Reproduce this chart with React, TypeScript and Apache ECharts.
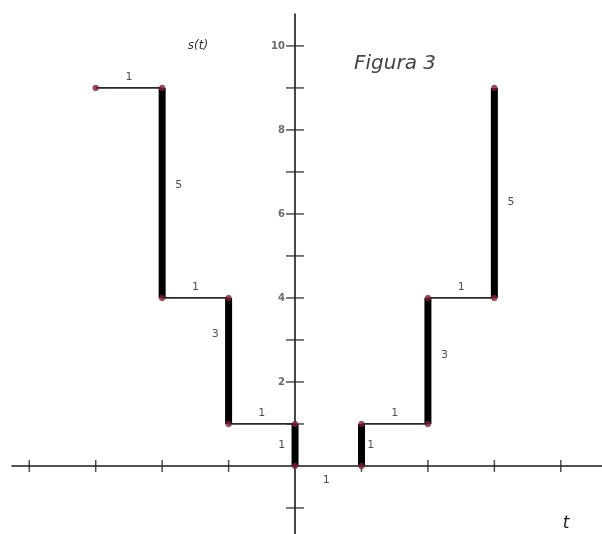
import React, { useEffect, useRef } from "react";
import * as echarts from "echarts";

// Step segments of s(t)
const horizontalSegments: [number, number][][] = [
  [[-3, 9], [-2, 9]],
  [[-2, 4], [-1, 4]],
  [[-1, 1], [0, 1]],
  [[1, 1], [2, 1]],
  [[2, 4], [3, 4]],
];
const verticalSegments: [number, number][][] = [
  [[-2, 9], [-2, 4]],
  [[-1, 4], [-1, 1]],
  [[0, 1], [0, 0]],
  [[1, 0], [1, 1]],
  [[2, 1], [2, 4]],
  [[3, 4], [3, 9]],
];
const points: [number, number][] = [
  [-3, 9], [-2, 9], [-2, 4], [-1, 4], [-1, 1], [0, 1], [0, 0],
  [1, 0], [1, 1], [2, 1], [2, 4], [3, 4], [3, 9],
];
// annotation labels: [t, s, text]
const annotations: [number, number, string][] = [
  [-2.5, 9.27, "1"],
  [-1.75, 6.7, "5"],
  [-1.5, 4.27, "1"],
  [-1.2, 3.15, "3"],
  [-0.5, 1.27, "1"],
  [-0.2, 0.52, "1"],
  [1.14, 0.52, "1"],
  [1.5, 1.27, "1"],
  [2.25, 2.65, "3"],
  [2.5, 4.27, "1"],
  [3.25, 6.3, "5"],
  [0.47, -0.33, "1"],
];
const xTicks = [-4, -3, -2, -1, 1, 2, 3, 4];
const yTicks = [-1, 1, 2, 3, 4, 5, 6, 7, 8, 9, 10];
const yTickLabels = [2, 4, 6, 8, 10];

export default function App() {
  const ref = useRef<HTMLDivElement>(null);
  useEffect(() => {
    if (!ref.current) return;
    const chart = echarts.init(ref.current, undefined, { renderer: "svg" });
    const series: any[] = [];
    horizontalSegments.forEach((seg) =>
      series.push({
        type: "line",
        data: seg,
        symbol: "none",
        lineStyle: { color: "#2a2a2a", width: 1.7 },
        z: 3,
      })
    );
    verticalSegments.forEach((seg) =>
      series.push({
        type: "line",
        data: seg,
        symbol: "none",
        lineStyle: { color: "#000", width: 7, cap: "butt" },
        z: 4,
      })
    );
    series.push({
      type: "scatter",
      data: points,
      symbol: "circle",
      symbolSize: 6.5,
      itemStyle: { color: "#7a2232" },
      z: 6,
    });
    series.push({
      type: "scatter",
      data: xTicks.map((t) => [t, 0]),
      symbol: "rect",
      symbolSize: [1.5, 12],
      itemStyle: { color: "#222" },
      z: 2,
    });
    series.push({
      type: "scatter",
      data: yTicks.map((v) => [0, v]),
      symbol: "rect",
      symbolSize: [18, 1.5],
      itemStyle: { color: "#222" },
      label: {
        show: true,
        position: "left",
        distance: 1,
        color: "#444",
        fontSize: 10,
        fontWeight: "bold",
        fontFamily: "DejaVu Sans",
        formatter: (p: any) =>
          yTickLabels.includes(p.value[1]) ? String(p.value[1]) : "",
      },
      z: 2,
    });
    series.push({
      type: "scatter",
      data: annotations,
      symbolSize: 0,
      label: {
        show: true,
        position: "inside",
        color: "#222",
        fontSize: 11,
        fontFamily: "DejaVu Sans",
        formatter: (p: any) => p.value[2],
      },
      z: 7,
    });
    chart.setOption({
      animation: false,
      grid: { left: 12, right: 0, top: 14, bottom: 0, containLabel: false },
      xAxis: {
        type: "value",
        min: -4.26,
        max: 4.62,
        axisLine: { onZero: true, lineStyle: { color: "#1a1a1a", width: 1.6 } },
        axisTick: { show: false },
        axisLabel: { show: false },
        splitLine: { show: false },
      },
      yAxis: {
        type: "value",
        min: -1.62,
        max: 10.76,
        axisLine: { onZero: true, lineStyle: { color: "#1a1a1a", width: 1.6 } },
        axisTick: { show: false },
        axisLabel: { show: false },
        splitLine: { show: false },
      },
      graphic: [
        {
          type: "text",
          x: 198,
          y: 45,
          style: {
            text: "s(t)",
            fontSize: 12,
            fontStyle: "italic",
            fontFamily: "DejaVu Sans",
            fill: "#333",
            align: "center",
            verticalAlign: "middle",
          },
        },
        {
          type: "text",
          x: 395,
          y: 62,
          style: {
            text: "Figura 3",
            fontSize: 20,
            fontStyle: "italic",
            fontFamily: "DejaVu Sans",
            fill: "#444",
            align: "center",
            verticalAlign: "middle",
          },
        },
        {
          type: "text",
          x: 566,
          y: 522,
          style: {
            text: "t",
            fontSize: 17,
            fontStyle: "italic",
            fontFamily: "DejaVu Sans",
            fill: "#222",
            align: "center",
            verticalAlign: "middle",
          },
        },
      ],
      series,
    });
    return () => chart.dispose();
  }, []);
  return (
    <div
      ref={ref}
      style={{ position: "fixed", left: 0, top: 0, width: 602, height: 534 }}
    />
  );
}
